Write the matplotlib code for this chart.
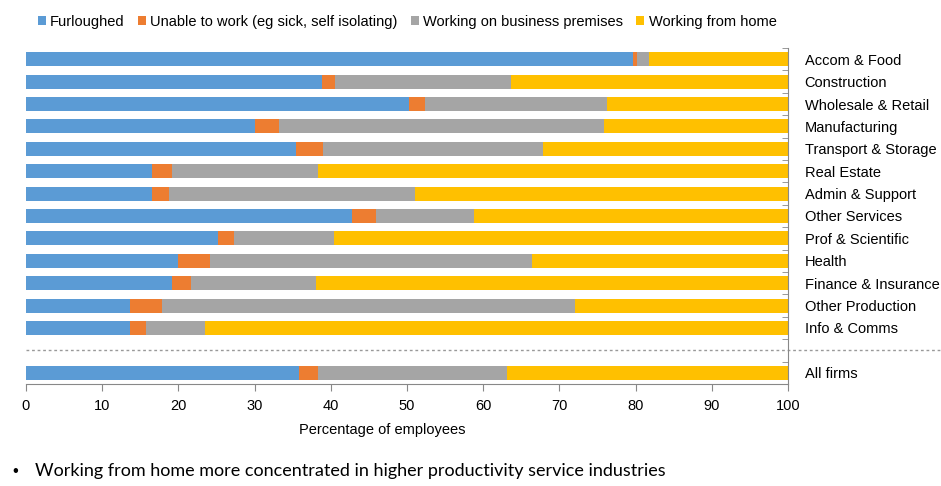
import numpy as np
import matplotlib.pyplot as plt

# 数据
industries = ['Accom & Food', 'Construction', 'Wholesale & Retail', 'Manufacturing',
              'Transport & Storage', 'Real Estate', 'Admin & Support', 'Other Services',
              'Prof & Scientific', 'Health', 'Finance & Insurance', 'Other Production',
              'Info & Comms', 'All firms']
furloughed = [79.7, 38.9, 50.2, 30.1, 35.4, 16.5, 16.5, 42.8, 25.2, 19.9, 19.2, 13.6, 13.6, 35.8]
unable = [0.5, 1.7, 2.1, 3.1, 3.6, 2.6, 2.3, 3.1, 2.1, 4.2, 2.5, 4.2, 2.1, 2.5]
premises = [1.6, 23.0, 23.9, 42.6, 28.8, 19.2, 32.3, 12.9, 13.1, 42.3, 16.3, 54.2, 7.8, 24.8]
home = [18.2, 36.4, 23.8, 24.2, 32.2, 61.7, 48.9, 41.2, 59.6, 33.6, 62.0, 28.0, 76.5, 36.9]

series_names = ['Furloughed', 'Unable to work (eg sick, self isolating)',
                'Working on business premises', 'Working from home']
colors = ['#5B9BD5', '#ED7D31', '#A5A5A5', '#FFC000']

plt.rcParams['font.family'] = ['Liberation Sans', 'DejaVu Sans']

fig = plt.figure(figsize=(9.41, 4.86), dpi=100)
ax = fig.add_axes([26 / 941, 1 - 384 / 486, 762 / 941, 336 / 486])

# 位置: 行业 0..12, 空一格, All firms 在 14
ypos = list(range(13)) + [14]
left = np.zeros(len(industries))
for vals, name, c in zip([furloughed, unable, premises, home], series_names, colors):
    ax.barh(ypos, vals, left=left, height=0.62, color=c, label=name)
    left += np.array(vals)

ax.set_xlim(0, 100)
ax.set_ylim(14.5, -0.5)
ax.set_xticks(range(0, 101, 10))
ax.tick_params(axis='x', length=5, color='#888888', labelsize=10.5, pad=6)

# 右侧类别标签
ax.yaxis.tick_right()
ax.set_yticks(ypos)
ax.set_yticklabels(industries, fontsize=10.5)
ax.tick_params(axis='y', length=0, pad=12)
ax.set_yticks(np.arange(-0.5, 14.6, 1), minor=True)
ax.tick_params(axis='y', which='minor', length=4, direction='in', color='#888888')

for s in ['top', 'left']:
    ax.spines[s].set_visible(False)
for s in ['right', 'bottom']:
    ax.spines[s].set_color('#888888')

# 虚线分隔
ax.plot([0, 120], [13, 13], ls=(0, (2, 2)), color='#999999', lw=1, clip_on=False)

ax.set_xlabel('Percentage of employees', fontsize=10.5)
ax.xaxis.set_label_coords(0.468, -0.115)

fig.legend(loc='upper left', bbox_to_anchor=(32 / 941, 1 - 9 / 486), ncol=4, frameon=False,
           fontsize=10.5, handlelength=0.55, handleheight=0.55, handletextpad=0.3,
           columnspacing=0.9, borderaxespad=0)

fig.text(12 / 941, 1 - 471 / 486, '\u2022', fontsize=12, va='center')
fig.text(35 / 941, 1 - 471 / 486,
         'Working from home more concentrated in higher productivity service industries',
         fontsize=13, va='center', family=['Lato', 'DejaVu Sans'])

fig.savefig('out.png', dpi=100)
